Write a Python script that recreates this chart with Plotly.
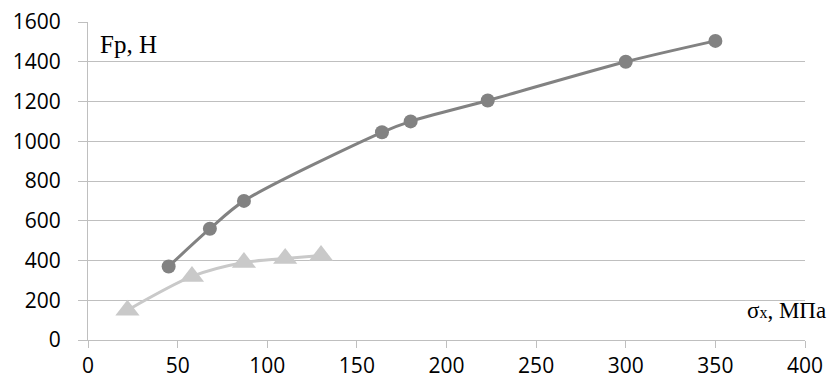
import plotly.graph_objects as go

# Data
sigma_dark = [45, 68, 87, 164, 180, 223, 300, 350]
fp_dark = [370, 560, 700, 1045, 1100, 1205, 1400, 1505]

sigma_light = [22, 58, 87, 110, 130]
fp_light = [150, 320, 390, 410, 425]

x_ticks = [0, 50, 100, 150, 200, 250, 300, 350, 400]
y_ticks = [0, 200, 400, 600, 800, 1000, 1200, 1400, 1600]

fig = go.Figure()
fig.add_trace(go.Scatter(
    x=sigma_light, y=fp_light, mode="lines+markers",
    line=dict(color="#c9c9c9", width=3, shape="spline", smoothing=0.8),
    marker=dict(symbol="triangle-up", size=21, color="#c9c9c9"),
    showlegend=False))
fig.add_trace(go.Scatter(
    x=sigma_dark, y=fp_dark, mode="lines+markers",
    line=dict(color="#828282", width=3, shape="spline", smoothing=0.8),
    marker=dict(symbol="circle", size=14, color="#828282"),
    showlegend=False))

fig.update_layout(
    width=829, height=382,
    margin=dict(l=88, r=24, t=22, b=42, autoexpand=False),
    paper_bgcolor="white", plot_bgcolor="white",
    font=dict(family="Open Sans, Noto Sans, sans-serif", size=21, color="#000000"),
    xaxis=dict(range=[0, 400], tickvals=x_ticks, showgrid=False, zeroline=False,
               showline=True, linecolor="#bfbfbf", linewidth=1, automargin=False,
               ticks="outside", ticklen=7, tickcolor="#bfbfbf"),
    yaxis=dict(range=[0, 1600], tickvals=y_ticks, showgrid=True, gridcolor="#bfbfbf",
               gridwidth=1, zeroline=False, showline=True, linecolor="#bfbfbf",
               linewidth=1, automargin=False, ticks="outside", ticklen=9,
               tickcolor="#bfbfbf", ticklabelstandoff=13),
    annotations=[
        dict(x=0.014, y=0.93, xref="paper", yref="paper", text="Fp, H",
             showarrow=False, xanchor="left", yanchor="middle",
             font=dict(family="Liberation Serif", size=25, color="#000000")),
        dict(x=1.032, y=0.092, xref="paper", yref="paper",
             text="σ<span style='font-size:16px'>x</span>, МПа",
             showarrow=False, xanchor="right", yanchor="middle",
             font=dict(family="Liberation Serif", size=23, color="#000000")),
    ],
)

fig.write_html("out.html", config={"displayModeBar": False},
               post_script="document.body.style.margin='0';")
